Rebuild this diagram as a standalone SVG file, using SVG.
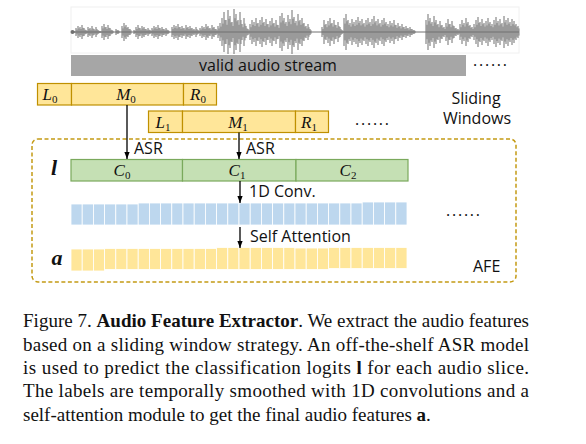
<svg xmlns="http://www.w3.org/2000/svg" xmlns:xlink="http://www.w3.org/1999/xlink" width="586" height="444" viewBox="0 0 586 444">
<style>
.sans{font-family:"Open Sans","DejaVu Sans",sans-serif;font-size:16px;fill:#111}
.m{font-family:"Liberation Serif","Times New Roman",serif;font-style:italic;font-size:17px;fill:#111}
.sub{font-style:normal;font-size:11px}
.bi{font-family:"Liberation Serif","Times New Roman",serif;font-style:italic;font-weight:bold;font-size:22px;fill:#111}
.cap{font-family:"Liberation Serif","Times New Roman",serif;font-size:19px;fill:#111}
.win{fill:#ffe699;stroke:#bf9000;stroke-width:1.2}
.grn{fill:#c5e0b4;stroke:#7aa95c;stroke-width:1.2}
.blue rect{fill:#bdd7ee;stroke:#fff;stroke-width:0.8}
.yel rect{fill:#ffe699;stroke:#fff;stroke-width:0.8}
.arr{stroke:#000;stroke-width:1.3;fill:none;marker-end:url(#ah)}
</style>
<defs>
<marker id="ah" viewBox="0 0 8 6" refX="8" refY="3" markerWidth="7" markerHeight="5.5" orient="auto" markerUnits="userSpaceOnUse"><path d="M0,0L8,3L0,6z" fill="#000"/></marker>
</defs>
<rect width="586" height="444" fill="#fff"/>

<g id="waveform">
<rect x="71" y="7" width="448" height="46" fill="#fff" stroke="#f0f0f0" stroke-width="1"/>
<line x1="71" y1="32" x2="519" y2="32" stroke="#707070" stroke-width="1"/>
<circle cx="72.5" cy="32" r="2" fill="#707070"/>
<path id="wv" stroke="#707070" stroke-width="1" fill="none" d="M74 31V33M76 28V36M78 26V38M80 27V37M82 25V39M84 28V36M86 30V34M88 27V37M90 28V36M92 26V38M94 29V35M96 27V37M98 30V34M100 31V33M102 26V38M104 24V40M106 27V37M108 25V39M110 28V36M112 30V34M116 29V35M118 30V34M122 26V38M124 23V41M126 25V39M128 27V37M130 29V35M134 30V34M136 27V37M138 25V39M140 28V36M142 26V38M144 27V37M146 29V35M148 28V36M150 30V34M152 28V36M154 26V38M156 27V37M158 25V39M160 28V36M162 27V37M164 29V35M166 28V36M168 30V34M172 27V37M174 25V39M176 26V38M178 24V40M180 27V37M182 26V38M184 28V36M186 25V39M188 27V37M190 26V38M192 28V36M194 29V35M196 27V37M198 30V34M200 28V36M202 26V38M204 27V37M206 24V40M208 26V38M210 28V36M212 25V39M214 27V37M216 29V35M218 26V38M220 23V41M222 18V46M224 12V52M226 20V44M228 10V54M230 16V48M232 22V42M234 9V54M236 14V50M238 20V44M240 12V52M242 24V40M244 18V46M246 26V38M248 29V35M250 24V40M252 20V44M254 22V42M256 18V46M258 23V41M260 20V44M262 17V47M264 22V42M266 19V45M268 24V40M270 21V43M272 18V46M274 23V41M276 20V44M278 25V39M280 16V48M282 13V51M284 18V46M286 22V42M288 15V49M290 19V45M292 10V54M294 17V47M296 21V43M298 14V50M300 20V44M302 18V46M304 23V41M306 26V38M308 24V40M310 29V35M322 27V37M324 20V44M326 24V40M328 21V43M330 18V46M332 23V41M334 20V44M336 25V39M338 22V42M340 27V37M342 30V34M344 18V46M346 14V50M348 20V44M350 23V41M352 19V45M354 22V42M356 20V44M358 17V47M360 21V43M362 19V45M364 23V41M366 20V44M368 18V46M370 22V42M372 19V45M374 16V48M376 21V43M378 19V45M380 23V41M382 20V44M384 18V46M386 22V42M388 24V40M390 21V43M392 23V41M394 20V44M396 25V39M398 23V41M400 26V38M402 24V40M404 27V37M406 26V38M408 28V36M410 27V37M412 29V35M414 30V34M426 20V44M428 14V50M430 18V46M432 22V42M434 16V48M436 20V44M438 24V40M440 21V43M442 25V39M444 27V37M446 23V41M448 19V45M450 24V40M452 21V43M454 26V38M456 28V36M458 29V35M460 24V40M462 20V44M464 23V41M466 18V46M468 22V42M470 25V39M472 27V37M474 24V40M476 20V44M478 17V47M480 22V42M482 19V45M484 23V41M486 21V43M488 18V46M490 22V42M492 24V40M494 20V44M496 17V47M498 21V43M500 19V45M502 23V41M504 16V48M506 20V44M508 18V46M510 22V42M512 19V45M514 21V43M516 24V40M518 26V38"/>
<use xlink:href="#wv" href="#wv" transform="translate(1,32) scale(1,0.6) translate(0,-32)"/>
</g>

<g id="stream-bar">
<rect x="71" y="55" width="395" height="21" fill="#a6a6a6"/>
<text class="sans" x="268" y="71" text-anchor="middle">valid audio stream</text>
<text class="sans" x="473" y="66" textLength="34">......</text>
</g>

<g id="window0">
<rect class="win" x="37.5" y="83.5" width="34" height="21.5"/>
<rect class="win" x="71.5" y="83.5" width="112" height="21.5"/>
<rect class="win" x="183.5" y="83.5" width="33" height="21.5"/>
<text class="m" x="50" y="100" text-anchor="middle">L<tspan class="sub" dy="3">0</tspan></text>
<text class="m" x="126" y="100" text-anchor="middle">M<tspan class="sub" dy="3">0</tspan></text>
<text class="m" x="198" y="100" text-anchor="middle">R<tspan class="sub" dy="3">0</tspan></text>
</g>

<g id="window1">
<rect class="win" x="148.5" y="111" width="34" height="21.5"/>
<rect class="win" x="182.5" y="111" width="113" height="21.5"/>
<rect class="win" x="295.5" y="111" width="33" height="21.5"/>
<text class="m" x="163" y="127.5" text-anchor="middle">L<tspan class="sub" dy="3">1</tspan></text>
<text class="m" x="238" y="127.5" text-anchor="middle">M<tspan class="sub" dy="3">1</tspan></text>
<text class="m" x="309" y="127.5" text-anchor="middle">R<tspan class="sub" dy="3">1</tspan></text>
<text class="sans" x="355" y="125" textLength="34">......</text>
</g>

<g id="sliding-label">
<text class="sans" x="476" y="104" text-anchor="middle">Sliding</text>
<text class="sans" x="477" y="124" text-anchor="middle">Windows</text>
</g>

<g id="afe-box">
<rect x="32" y="139" width="484" height="143" rx="6" fill="none" stroke="#c49a14" stroke-width="1.5" stroke-dasharray="4 2.5"/>
<text class="sans" x="473" y="272">AFE</text>
</g>

<g id="logits">
<text class="bi" x="54" y="175" text-anchor="middle">l</text>
<rect class="grn" x="71" y="159.5" width="111.5" height="21.5"/>
<rect class="grn" x="182.5" y="159.5" width="113.5" height="21.5"/>
<rect class="grn" x="296" y="159.5" width="112" height="21.5"/>
<text class="m" x="122" y="176" text-anchor="middle">C<tspan class="sub" dy="3">0</tspan></text>
<text class="m" x="237" y="176" text-anchor="middle">C<tspan class="sub" dy="3">1</tspan></text>
<text class="m" x="348" y="176" text-anchor="middle">C<tspan class="sub" dy="3">2</tspan></text>
</g>

<g id="conv-features" class="blue">
<rect x="71" y="204" width="11.2" height="21"/><rect x="82.2" y="204" width="11.2" height="21"/><rect x="93.4" y="204" width="11.2" height="21"/><rect x="104.6" y="204" width="11.2" height="21"/><rect x="115.8" y="204" width="11.2" height="21"/><rect x="127" y="204" width="11.2" height="21"/>
<rect x="138.2" y="203" width="11.2" height="22"/><rect x="149.4" y="203" width="11.2" height="22"/><rect x="160.6" y="203" width="11.2" height="22"/><rect x="171.8" y="203" width="11.2" height="22"/><rect x="183" y="203" width="11.2" height="22"/><rect x="194.2" y="203" width="11.2" height="22"/><rect x="205.4" y="203" width="11.2" height="22"/><rect x="216.6" y="203" width="11.2" height="22"/><rect x="227.8" y="203" width="11.2" height="22"/><rect x="239" y="203" width="11.2" height="22"/><rect x="250.2" y="203" width="11.2" height="22"/><rect x="261.4" y="203" width="11.2" height="22"/><rect x="272.6" y="203" width="11.2" height="22"/><rect x="283.8" y="203" width="11.2" height="22"/><rect x="295" y="203" width="11.2" height="22"/><rect x="306.2" y="203" width="11.2" height="22"/><rect x="317.4" y="203" width="11.2" height="22"/><rect x="328.6" y="203" width="11.2" height="22"/><rect x="339.8" y="203" width="11.2" height="22"/><rect x="351" y="203" width="11.2" height="22"/>
<rect x="362.2" y="202" width="11.2" height="23"/><rect x="373.4" y="202" width="11.2" height="23"/><rect x="384.6" y="202" width="11.2" height="23"/><rect x="395.8" y="202" width="11.2" height="23"/>
<text class="sans" x="446" y="216" textLength="34">......</text>
</g>

<g id="audio-features" class="yel">
<text class="bi" x="57" y="265" text-anchor="middle">a</text>
<rect x="71" y="249" width="11.2" height="22"/><rect x="82.2" y="249" width="11.2" height="22"/><rect x="93.4" y="249" width="11.2" height="22"/>
<rect x="104.6" y="248.5" width="11.2" height="21"/><rect x="115.8" y="248.5" width="11.2" height="21"/><rect x="127" y="248.5" width="11.2" height="21"/><rect x="138.2" y="248.5" width="11.2" height="21"/><rect x="149.4" y="248.5" width="11.2" height="21"/><rect x="160.6" y="248.5" width="11.2" height="21"/><rect x="171.8" y="248.5" width="11.2" height="21"/><rect x="183" y="248.5" width="11.2" height="21"/><rect x="194.2" y="248.5" width="11.2" height="21"/><rect x="205.4" y="248.5" width="11.2" height="21"/>
<rect x="216.6" y="247.5" width="11.2" height="22"/><rect x="227.8" y="247.5" width="11.2" height="22"/><rect x="239" y="247.5" width="11.2" height="22"/><rect x="250.2" y="247.5" width="11.2" height="22"/><rect x="261.4" y="247.5" width="11.2" height="22"/><rect x="272.6" y="247.5" width="11.2" height="22"/><rect x="283.8" y="247.5" width="11.2" height="22"/>
<rect x="295" y="248" width="11.2" height="21.5"/><rect x="306.2" y="248" width="11.2" height="21.5"/><rect x="317.4" y="248" width="11.2" height="21.5"/>
<rect x="328.6" y="247.5" width="11.2" height="21"/><rect x="339.8" y="247.5" width="11.2" height="21"/><rect x="351" y="247.5" width="11.2" height="21"/><rect x="362.2" y="247.5" width="11.2" height="21"/><rect x="373.4" y="247.5" width="11.2" height="21"/><rect x="384.6" y="247.5" width="11.2" height="21"/><rect x="395.8" y="247.5" width="11.2" height="21"/>
</g>

<g id="connectors">
<line class="arr" x1="127" y1="105" x2="127" y2="159"/>
<line class="arr" x1="239" y1="132.5" x2="239" y2="159"/>
<line class="arr" x1="240" y1="181" x2="240" y2="203"/>
<line class="arr" x1="240" y1="227" x2="240" y2="248"/>
<text class="sans" x="134" y="154">ASR</text>
<text class="sans" x="246" y="154">ASR</text>
<text class="sans" x="249" y="197">1D Conv.</text>
<text class="sans" x="250" y="242">Self Attention</text>
</g>

<g id="caption">
<text class="cap" x="23" y="327" textLength="506">Figure 7. <tspan font-weight="bold">Audio Feature Extractor</tspan>. We extract the audio features</text>
<text class="cap" x="23" y="351" textLength="506">based on a sliding window strategy.  An off-the-shelf ASR model</text>
<text class="cap" x="23" y="374" textLength="506">is used to predict the classification logits <tspan font-weight="bold">l</tspan> for each audio slice.</text>
<text class="cap" x="23" y="397" textLength="506">The labels are temporally smoothed with 1D convolutions and a</text>
<text class="cap" x="23" y="421">self-attention module to get the final audio features <tspan font-weight="bold">a</tspan>.</text>
</g>
</svg>
